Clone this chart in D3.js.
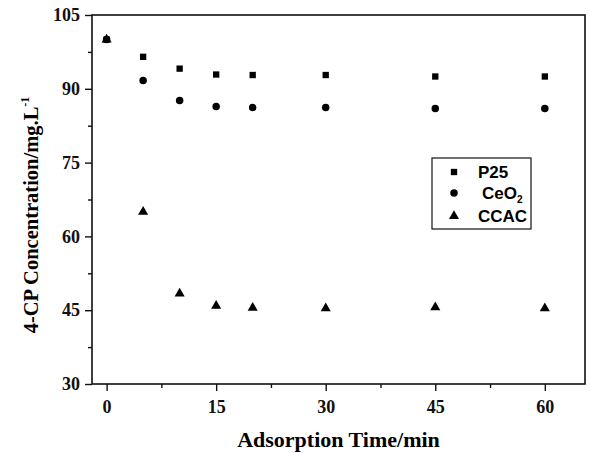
<!DOCTYPE html>
<html>
<head>
<meta charset="utf-8">
<script src="https://cdn.jsdelivr.net/npm/d3@7"></script>
<style>
  body { margin: 0; background: #fff; }
  .tick text { font-family: "Liberation Serif", "Times New Roman", serif; font-weight: bold; font-size: 18px; fill: #111; }
  .domain { display: none; }
  .tick line { stroke: #111; stroke-width: 1.4; }
</style>
</head>
<body>
<div id="chart"></div>
<script>
// Values
var times = [0, 5, 10, 15, 20, 30, 45, 60];
var p25 = [100, 96.5, 94.1, 92.9, 92.8, 92.8, 92.5, 92.5];
var ceo2 = [100, 91.7, 87.6, 86.4, 86.2, 86.2, 86.0, 86.0];
var ccac = [100, 65.0, 48.4, 45.9, 45.5, 45.4, 45.6, 45.4];
var xTicks = [0, 15, 30, 45, 60];
var xMinor = [7.5, 22.5, 37.5, 52.5];
var yTicks = [30, 45, 60, 75, 90, 105];
var yMinor = [37.5, 52.5, 67.5, 82.5, 97.5];

var w = 590, h = 453;
var margin = { top: 15, right: 5, bottom: 69, left: 92 };
var width = w - margin.left - margin.right;
var height = h - margin.top - margin.bottom;

var svg = d3.select("#chart").append("svg")
    .attr("width", w)
    .attr("height", h);
var g = svg.append("g")
    .attr("transform", "translate(" + margin.left + "," + margin.top + ")");

var xScale = d3.scaleLinear().domain([-2, 65.5]).range([0, width]);
var yScale = d3.scaleLinear().domain([30, 105]).range([height, 0]);

// Axes (ticks point outward)
g.append("g").attr("transform", "translate(0," + height + ")")
  .call(d3.axisBottom(xScale).tickValues(xTicks).tickSize(7).tickPadding(9));
g.append("g").attr("transform", "translate(0," + height + ")")
  .call(d3.axisBottom(xScale).tickValues(xMinor).tickSize(4).tickFormat(""));
g.append("g")
  .call(d3.axisLeft(yScale).tickValues(yTicks).tickSize(7).tickPadding(5));
g.append("g")
  .call(d3.axisLeft(yScale).tickValues(yMinor).tickSize(4).tickFormat(""));

// Frame
g.append("rect")
  .attr("width", width).attr("height", height)
  .attr("fill", "none").attr("stroke", "#111").attr("stroke-width", 1.6);

// Series
var series = [
  { name: "P25", values: p25, symbol: d3.symbolSquare, size: 40 },
  { name: "CeO2", values: ceo2, symbol: d3.symbolCircle, size: 44 },
  { name: "CCAC", values: ccac, symbol: d3.symbolTriangle, size: 44 }
];

series.forEach(function(s) {
  g.selectAll(null).data(times).enter().append("path")
    .attr("d", d3.symbol().type(s.symbol).size(s.size))
    .attr("transform", function(d, i) {
      return "translate(" + xScale(d) + "," + yScale(s.values[i]) + ")";
    })
    .attr("fill", "#000");
});

// Legend
var legend = svg.append("g").attr("transform", "translate(432,158)");
legend.append("rect")
  .attr("width", 99).attr("height", 71)
  .attr("fill", "#fff").attr("stroke", "#111").attr("stroke-width", 1.2);
var rows = [14, 35, 58];
series.forEach(function(s, i) {
  legend.append("path")
    .attr("d", d3.symbol().type(s.symbol).size(s.size))
    .attr("transform", "translate(22," + rows[i] + ")")
    .attr("fill", "#000");
  var t = legend.append("text")
    .attr("x", i === 1 ? 50 : 46)
    .attr("y", rows[i] + 6)
    .style("font-family", "'Liberation Sans', Arial, sans-serif")
    .style("font-weight", "bold")
    .style("font-size", "17px");
  if (s.name === "CeO2") {
    t.append("tspan").text("CeO");
    t.append("tspan").attr("dy", 4).style("font-size", "10px").text("2");
  } else {
    t.text(s.name);
  }
});

// Axis titles
svg.append("text")
  .attr("x", margin.left + width / 2)
  .attr("y", 447)
  .attr("text-anchor", "middle")
  .style("font-family", "'Liberation Serif', 'Times New Roman', serif")
  .style("font-weight", "bold")
  .style("font-size", "22px")
  .text("Adsorption Time/min");

var yt = svg.append("text")
  .attr("transform", "translate(37.5,215) rotate(-90)")
  .attr("text-anchor", "middle")
  .style("font-family", "'Liberation Serif', 'Times New Roman', serif")
  .style("font-weight", "bold")
  .style("font-size", "20.5px");
yt.append("tspan").text("4-CP Concentration/mg.L");
yt.append("tspan").attr("dy", -9).style("font-size", "12px").text("-1");
</script>
</body>
</html>
